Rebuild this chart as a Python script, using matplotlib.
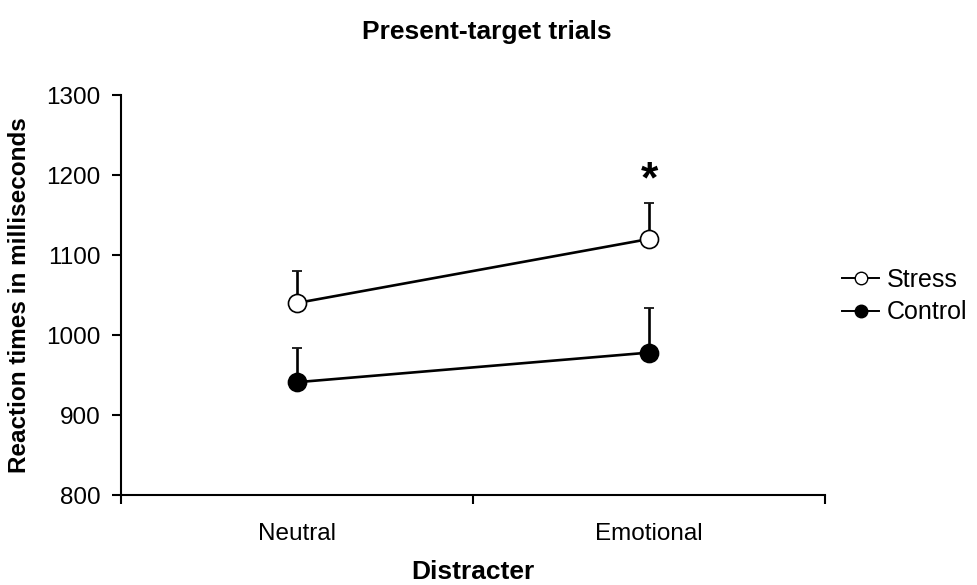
import numpy as np
import matplotlib
matplotlib.use('Agg')
import matplotlib.pyplot as plt
from matplotlib.lines import Line2D

plt.rcParams['font.family'] = ['Liberation Sans', 'DejaVu Sans']

# data
categories = ['Neutral', 'Emotional']
stress_mean = [1040, 1120]
stress_err = [40, 45]
control_mean = [941, 978]
control_err = [43, 56]
y_ticks = [800, 900, 1000, 1100, 1200, 1300]


fig = plt.figure(figsize=(9.78, 5.85), dpi=100)
ax = fig.add_axes([121/978, 90/585, 704/978, 400/585])

x = np.arange(len(categories))

ax.errorbar(x, stress_mean, yerr=[np.zeros(2), stress_err], color='black',
            lw=1.9, marker='o', ms=13, mfc='white', mec='black', mew=1.2,
            capsize=3.5, capthick=2.2, elinewidth=1.9, zorder=3)
ax.errorbar(x, control_mean, yerr=[np.zeros(2), control_err], color='black',
            lw=1.9, marker='o', ms=13, mfc='black', mec='black', mew=1.2,
            capsize=3.5, capthick=2.2, elinewidth=1.9, zorder=3)

# significance star
ax.text(x[1], 1192, '*', ha='center', va='center', fontsize=32, fontweight='bold')

ax.set_xlim(-0.5, 1.5)
ax.set_ylim(800, 1300)
ax.set_yticks(y_ticks)
ax.set_xticks([-0.5, 0.5, 1.5])
ax.set_xticklabels([])
ax.set_xticks(x, minor=True)
ax.set_xticklabels(categories, minor=True)
ax.tick_params(axis='x', which='major', direction='out', length=6.5, width=1.5)
ax.tick_params(axis='x', which='minor', length=0, pad=20, labelsize=17.5)
ax.tick_params(axis='y', direction='out', length=6.5, width=1.5, labelsize=17.5, pad=8)

for s in ['top', 'right']:
    ax.spines[s].set_visible(False)
for s in ['left', 'bottom']:
    ax.spines[s].set_linewidth(1.5)

ax.set_xlabel('Distracter', fontsize=19, fontweight='bold', va='center')
ax.xaxis.set_label_coords(0.5, (495 - 572) / 400)
ax.set_ylabel('Reaction times in milliseconds', fontsize=17.5, fontweight='bold', va='center')
ax.yaxis.set_label_coords((20 - 121) / 704, 0.5)
fig.text(487/978, 1 - 32/585, 'Present-target trials', ha='center', va='center',
         fontsize=19, fontweight='bold')

handles = [Line2D([], [], color='black', lw=1.4, marker='o', ms=9, mfc='white', mec='black'),
           Line2D([], [], color='black', lw=1.4, marker='o', ms=9, mfc='black', mec='black')]
ax.legend(handles, ['Stress', 'Control'], loc='center left',
          bbox_to_anchor=(842/978, 1 - 296/585), bbox_transform=fig.transFigure,
          frameon=False, fontsize=18, handlelength=1.5, handletextpad=0.3,
          labelspacing=0.35, borderaxespad=0, borderpad=0)

fig.savefig('out.png', dpi=100)
